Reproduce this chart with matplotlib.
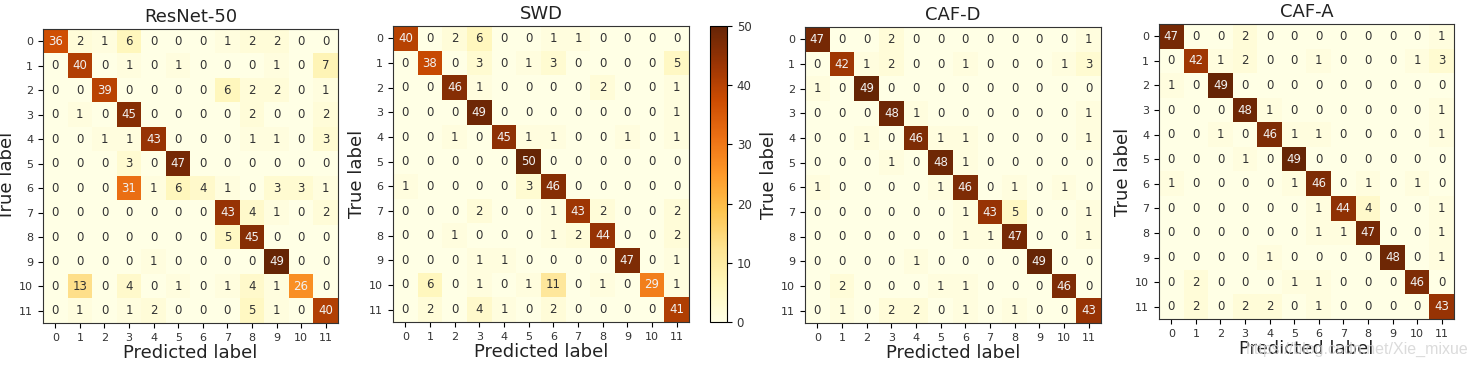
import numpy as np
import matplotlib
matplotlib.use("Agg")
import matplotlib.pyplot as plt

classes = [str(i) for i in range(12)]
titles = ["ResNet-50", "SWD", "CAF-D", "CAF-A"]

resnet50 = [
    [36, 2, 1, 6, 0, 0, 0, 1, 2, 2, 0, 0],
    [0, 40, 0, 1, 0, 1, 0, 0, 0, 1, 0, 7],
    [0, 0, 39, 0, 0, 0, 0, 6, 2, 2, 0, 1],
    [0, 1, 0, 45, 0, 0, 0, 0, 2, 0, 0, 2],
    [0, 0, 1, 1, 43, 0, 0, 0, 1, 1, 0, 3],
    [0, 0, 0, 3, 0, 47, 0, 0, 0, 0, 0, 0],
    [0, 0, 0, 31, 1, 6, 4, 1, 0, 3, 3, 1],
    [0, 0, 0, 0, 0, 0, 0, 43, 4, 1, 0, 2],
    [0, 0, 0, 0, 0, 0, 0, 5, 45, 0, 0, 0],
    [0, 0, 0, 0, 1, 0, 0, 0, 0, 49, 0, 0],
    [0, 13, 0, 4, 0, 1, 0, 1, 4, 1, 26, 0],
    [0, 1, 0, 1, 2, 0, 0, 0, 5, 1, 0, 40],
]

swd = [
    [40, 0, 2, 6, 0, 0, 1, 1, 0, 0, 0, 0],
    [0, 38, 0, 3, 0, 1, 3, 0, 0, 0, 0, 5],
    [0, 0, 46, 1, 0, 0, 0, 0, 2, 0, 0, 1],
    [0, 0, 0, 49, 0, 0, 0, 0, 0, 0, 0, 1],
    [0, 0, 1, 0, 45, 1, 1, 0, 0, 1, 0, 1],
    [0, 0, 0, 0, 0, 50, 0, 0, 0, 0, 0, 0],
    [1, 0, 0, 0, 0, 3, 46, 0, 0, 0, 0, 0],
    [0, 0, 0, 2, 0, 0, 1, 43, 2, 0, 0, 2],
    [0, 0, 1, 0, 0, 0, 1, 2, 44, 0, 0, 2],
    [0, 0, 0, 1, 1, 0, 0, 0, 0, 47, 0, 1],
    [0, 6, 0, 1, 0, 1, 11, 0, 1, 0, 29, 1],
    [0, 2, 0, 4, 1, 0, 2, 0, 0, 0, 0, 41],
]

caf_d = [
    [47, 0, 0, 2, 0, 0, 0, 0, 0, 0, 0, 1],
    [0, 42, 1, 2, 0, 0, 1, 0, 0, 0, 1, 3],
    [1, 0, 49, 0, 0, 0, 0, 0, 0, 0, 0, 0],
    [0, 0, 0, 48, 1, 0, 0, 0, 0, 0, 0, 1],
    [0, 0, 1, 0, 46, 1, 1, 0, 0, 0, 0, 1],
    [0, 0, 0, 1, 0, 48, 1, 0, 0, 0, 0, 0],
    [1, 0, 0, 0, 0, 1, 46, 0, 1, 0, 1, 0],
    [0, 0, 0, 0, 0, 0, 1, 43, 5, 0, 0, 1],
    [0, 0, 0, 0, 0, 0, 1, 1, 47, 0, 0, 1],
    [0, 0, 0, 0, 1, 0, 0, 0, 0, 49, 0, 0],
    [0, 2, 0, 0, 0, 1, 1, 0, 0, 0, 46, 0],
    [0, 1, 0, 2, 2, 0, 1, 0, 1, 0, 0, 43],
]

caf_a = [
    [47, 0, 0, 2, 0, 0, 0, 0, 0, 0, 0, 1],
    [0, 42, 1, 2, 0, 0, 1, 0, 0, 0, 1, 3],
    [1, 0, 49, 0, 0, 0, 0, 0, 0, 0, 0, 0],
    [0, 0, 0, 48, 1, 0, 0, 0, 0, 0, 0, 1],
    [0, 0, 1, 0, 46, 1, 1, 0, 0, 0, 0, 1],
    [0, 0, 0, 1, 0, 49, 0, 0, 0, 0, 0, 0],
    [1, 0, 0, 0, 0, 1, 46, 0, 1, 0, 1, 0],
    [0, 0, 0, 0, 0, 0, 1, 44, 4, 0, 0, 1],
    [0, 0, 0, 0, 0, 0, 1, 1, 47, 0, 0, 1],
    [0, 0, 0, 0, 1, 0, 0, 0, 0, 48, 0, 1],
    [0, 2, 0, 0, 0, 1, 1, 0, 0, 0, 46, 0],
    [0, 2, 0, 2, 2, 0, 1, 0, 0, 0, 0, 43],
]

matrices = [resnet50, swd, caf_d, caf_a]

W, H = 1478, 366
fig = plt.figure(figsize=(W / 100, H / 100), dpi=100)

def px_axes(l, t, r, b):
    return fig.add_axes([l / W, (H - b) / H, (r - l) / W, (b - t) / H])

boxes = [(43, 29, 338, 323), (393, 26, 689, 322), (805, 27, 1101, 323), (1159, 24, 1454, 319)]
cmap = plt.get_cmap("YlOrBr")

for k, (m, title, box) in enumerate(zip(matrices, titles, boxes)):
    cm = np.array(m)
    ax = px_axes(*box)
    im = ax.imshow(cm, interpolation="nearest", cmap=cmap, aspect="auto")
    ax.set_title(title, fontsize=13, color="#222222", pad=5)
    ax.set_xticks(np.arange(len(classes)))
    ax.set_yticks(np.arange(len(classes)))
    ax.set_xticklabels(classes, fontsize=8, color="#333333")
    ax.set_yticklabels(classes, fontsize=8, color="#333333")
    ax.set_xlabel("Predicted label", fontsize=13, labelpad=1, color="#222222")
    ax.set_ylabel("True label", fontsize=13, labelpad=2, color="#222222")
    for s in ax.spines.values():
        s.set_color("#333333")
    thresh = cm.max() / 2.0
    for i in range(cm.shape[0]):
        for j in range(cm.shape[1]):
            ax.text(j, i, format(cm[i, j], "d"), ha="center", va="center",
                    fontsize=8.5, color="#f2f2f2" if cm[i, j] > thresh else "#333333")
    if k == 1:
        cax = px_axes(710, 26, 727, 322)
        cb = fig.colorbar(im, cax=cax)
        cb.set_ticks([0, 10, 20, 30, 40, 50])
        cb.ax.tick_params(labelsize=8.5, labelcolor="#333333")

fig.text(1246 / W, (H - 349) / H, "https://blog.csdn.net/Xie_mixue", fontsize=11.5,
         family="Liberation Sans", color="#d5d5d5", alpha=0.85, va="center", ha="left")

fig.savefig("out.png", dpi=100)
